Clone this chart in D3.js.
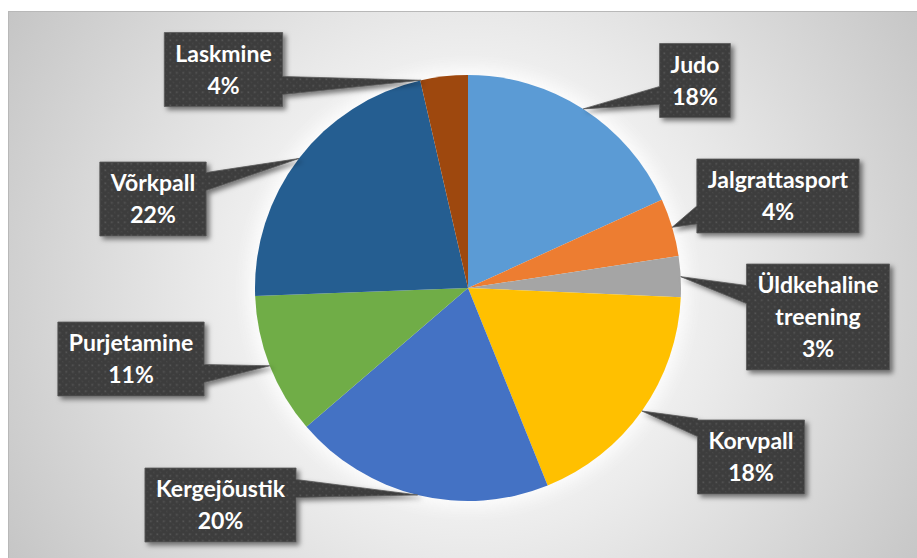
<!DOCTYPE html>
<html>
<head>
<meta charset="utf-8">
<script src="https://cdn.jsdelivr.net/npm/d3@7"></script>
<style>
  html, body { margin: 0; padding: 0; background: #ffffff; }
  svg { display: block; }
</style>
</head>
<body>
<div id="chart"></div>
<script>
// Andmed: spordialad ja osakaalud (%)
const categories = ["Judo", "Jalgrattasport", "Üldkehaline treening", "Korvpall",
                    "Kergejõustik", "Purjetamine", "Võrkpall", "Laskmine"];
const shares = [18.2, 4.4, 3.1, 18.2, 19.8, 10.7, 22.0, 3.6];
const colors = ["#5b9bd5", "#ed7d31", "#a5a5a5", "#ffc000",
                "#4472c4", "#70ad47", "#255e91", "#9e480e"];

// Siltide kastide keskpunktid, noole aluse nihe ja noole otsa nihe (paigutus)
const labelCenters = [[695, 80.5], [778, 196], [818, 317], [751, 457],
                      [220.5, 505], [131, 359], [153, 199], [223.5, 69.5]];
const baseOffsets = [15, 19, -22.5, -29.5, -16.5, 14.5, -17.5, 16];
const tipNudge = [0, 0, 0, 0, 0, 0, 0, -0.11];

const width = 917, height = 558;
const cx = 468, cy = 288, radius = 213;
const lineGap = 32;

const svg = d3.select("#chart").append("svg")
    .attr("width", width)
    .attr("height", height);

const defs = svg.append("defs");

// Tausta radiaalne gradient
const bg = defs.append("radialGradient")
    .attr("id", "bg")
    .attr("gradientUnits", "userSpaceOnUse")
    .attr("cx", cx).attr("cy", cy).attr("r", 560);
bg.append("stop").attr("offset", 0).attr("stop-color", "#ffffff");
bg.append("stop").attr("offset", 0.4).attr("stop-color", "#efefef");
bg.append("stop").attr("offset", 1).attr("stop-color", "#c2c2c2");

// Siltide täpimuster
const pat = defs.append("pattern")
    .attr("id", "dots")
    .attr("patternUnits", "userSpaceOnUse")
    .attr("width", 6.5).attr("height", 6.5);
pat.append("rect").attr("width", 6.5).attr("height", 6.5).attr("fill", "#3e3e3e");
pat.append("rect").attr("x", 0.5).attr("y", 0.5).attr("width", 1.6).attr("height", 1.6).attr("fill", "#585858");
pat.append("rect").attr("x", 3.8).attr("y", 3.8).attr("width", 1).attr("height", 1).attr("fill", "#4c4c4c");

const shadow = defs.append("filter")
    .attr("id", "shadow")
    .attr("x", "-20%").attr("y", "-20%").attr("width", "150%").attr("height", "150%");
shadow.append("feDropShadow")
    .attr("dx", 3).attr("dy", 3).attr("stdDeviation", 2.5)
    .attr("flood-color", "#000").attr("flood-opacity", 0.5);

const glow = defs.append("filter")
    .attr("id", "glow")
    .attr("x", "-30%").attr("y", "-30%").attr("width", "160%").attr("height", "160%");
glow.append("feGaussianBlur").attr("stdDeviation", 8);

// Taust
svg.append("rect")
    .attr("x", 8.5).attr("y", 11.5)
    .attr("width", width).attr("height", height)
    .attr("fill", "url(#bg)")
    .attr("stroke", "#b8b8b8");

// Pirukas
const pie = d3.pie().sort(null).value(d => d);
const arcs = pie(shares);
const arc = d3.arc().innerRadius(0).outerRadius(radius);

const g = svg.append("g").attr("transform", "translate(" + cx + "," + cy + ")");

g.append("circle")
    .attr("r", radius + 6)
    .attr("fill", "#ffffff")
    .attr("opacity", 0.9)
    .attr("filter", "url(#glow)");

g.selectAll("path.slice")
    .data(arcs)
    .enter().append("path")
    .attr("class", "slice")
    .attr("d", arc)
    .attr("fill", (d, i) => colors[i]);

// Sildid koos noolega
const labels = svg.append("g");

arcs.forEach(function (a, i) {
    const lines = categories[i].split(" ").concat([Math.round(a.value) + "%"]);
    const [lx, ly] = labelCenters[i];
    const mid = (a.startAngle + a.endAngle) / 2 + tipNudge[i];
    const tx = cx + radius * Math.sin(mid);
    const ty = cy - radius * Math.cos(mid);

    const lg = labels.append("g");
    const shape = lg.append("path");

    const h = lineGap * lines.length + 10;
    const y0 = ly - h / 2;
    const text = lg.append("text")
        .attr("text-anchor", "middle")
        .attr("fill", "#ffffff")
        .style("font-family", "Lato, 'Open Sans', sans-serif")
        .style("font-weight", "bold")
        .style("font-size", "23px");
    lines.forEach(function (t, k) {
        text.append("tspan")
            .attr("x", lx)
            .attr("y", y0 + 29 + k * lineGap)
            .text(t);
    });
    let maxW = 0;
    text.selectAll("tspan").each(function () {
        maxW = Math.max(maxW, this.getComputedTextLength());
    });
    const w = maxW + 22;
    const x0 = lx - w / 2, x1 = lx + w / 2, y1 = y0 + h;

    const bc = ly + baseOffsets[i];
    const b1 = bc - 9, b2 = bc + 9;
    let d;
    if (tx < x0) {
        d = "M" + x0 + "," + y0 + "L" + x1 + "," + y0 + "L" + x1 + "," + y1 + "L" + x0 + "," + y1 +
            "L" + x0 + "," + b2 + "L" + tx + "," + ty + "L" + x0 + "," + b1 + "Z";
    } else {
        d = "M" + x0 + "," + y0 + "L" + x1 + "," + y0 + "L" + x1 + "," + b1 + "L" + tx + "," + ty +
            "L" + x1 + "," + b2 + "L" + x1 + "," + y1 + "L" + x0 + "," + y1 + "Z";
    }
    shape.attr("d", d)
        .attr("fill", "url(#dots)")
        .attr("stroke", "#5a5a5a")
        .attr("stroke-width", 0.8)
        .attr("filter", "url(#shadow)");
});
</script>
</body>
</html>
